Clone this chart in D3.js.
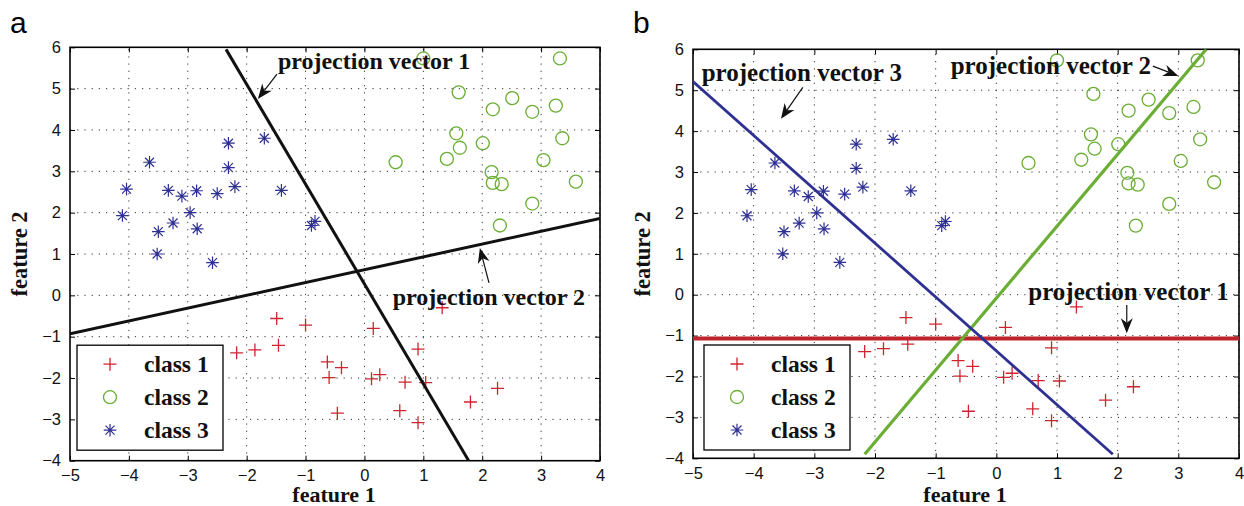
<!DOCTYPE html>
<html>
<head>
<meta charset="utf-8">
<script src="https://cdn.jsdelivr.net/npm/d3@7"></script>
<style>
  body { margin: 0; background: #fff; }
  svg { display: block; }
</style>
</head>
<body>
<svg id="chart" width="1244" height="506"></svg>
<script>
// ----------------------
// DATA
// ----------------------
const xTicks = [-5, -4, -3, -2, -1, 0, 1, 2, 3, 4];
const yTicks = [-4, -3, -2, -1, 0, 1, 2, 3, 4, 5, 6];

const class1 = [
  [-1.49, -0.56], [-1.00, -0.72], [-2.17, -1.39], [-1.86, -1.32], [-1.46, -1.21],
  [0.15, -0.80], [1.32, -0.30], [0.91, -1.30], [-0.63, -1.61], [-0.39, -1.75],
  [-0.60, -1.99], [0.12, -2.02], [0.26, -1.92], [0.69, -2.10], [1.04, -2.11],
  [2.26, -2.25], [1.80, -2.58], [0.60, -2.79], [-0.46, -2.85], [0.91, -3.08]
];
const class2 = [
  [1.00, 5.73], [3.32, 5.73], [1.60, 4.91], [2.51, 4.77], [2.18, 4.50],
  [2.85, 4.44], [3.25, 4.59], [1.56, 3.92], [1.62, 3.57], [2.01, 3.68],
  [1.40, 3.30], [0.53, 3.22], [3.36, 3.80], [3.04, 3.27], [2.16, 2.98],
  [2.18, 2.72], [2.33, 2.69], [3.59, 2.75], [2.85, 2.22], [2.30, 1.69]
];
const class3 = [
  [-4.04, 2.57], [-4.11, 1.93], [-3.65, 3.22], [-3.33, 2.54], [-3.10, 2.40],
  [-2.85, 2.53], [-2.96, 2.00], [-3.25, 1.75], [-3.50, 1.54], [-2.84, 1.61],
  [-2.50, 2.46], [-2.31, 3.68], [-2.31, 3.09], [-2.20, 2.63], [-1.70, 3.80],
  [-1.41, 2.54], [-0.90, 1.69], [-0.84, 1.79], [-3.52, 1.00], [-2.58, 0.79]
];
const classNames = ["class 1", "class 2", "class 3"];

// projection vectors (end points in feature space)
const linesA = [
  [[-2.35, 5.95], [1.77, -4.0]],
  [[-5, -0.93], [4, 1.86]]
];
const linesB = [
  [[-5, -1.07], [4, -1.07]],
  [[-2.17, -3.9], [3.46, 6.0]],
  [[-5, 5.21], [1.92, -3.9]]
];

// ----------------------
// STYLE / LAYOUT
// ----------------------
const RED = "#cf2430", GREEN = "#6aae35", NAVY = "#2f3192";
const serif = "'Liberation Serif', 'Times New Roman', serif";
const sans = "'Liberation Sans', Arial, sans-serif";

const svg = d3.select("#chart");

function marker(g, type, x, y){
  if(type === 0){
    g.append("path").attr("d", `M${x-6.5},${y}H${x+6.5}M${x},${y-6.5}V${y+6.5}`)
      .attr("stroke", RED).attr("stroke-width", 1.3).attr("fill", "none");
  } else if(type === 1){
    g.append("circle").attr("cx", x).attr("cy", y).attr("r", 6.5)
      .attr("stroke", GREEN).attr("stroke-width", 1.3).attr("fill", "none");
  } else {
    const r = 6.3, d = 4.5;
    g.append("path")
      .attr("d", `M${x-r},${y}H${x+r}M${x},${y-r}V${y+r}M${x-d},${y-d}L${x+d},${y+d}M${x-d},${y+d}L${x+d},${y-d}`)
      .attr("stroke", NAVY).attr("stroke-width", 1.2).attr("fill", "none");
  }
}

function drawPanel(cfg){
  const x = d3.scaleLinear().domain([-5, 4]).range([cfg.left, cfg.right]);
  const y = d3.scaleLinear().domain([-4, 6]).range([cfg.bottom, cfg.top]);
  const g = svg.append("g");
  const clipId = "clip" + cfg.id;
  svg.append("clipPath").attr("id", clipId).append("rect")
    .attr("x", cfg.left).attr("y", cfg.top)
    .attr("width", cfg.right - cfg.left).attr("height", cfg.bottom - cfg.top);

  // grid
  const grid = g.append("g").attr("stroke", "#333").attr("stroke-width", 1)
    .attr("stroke-dasharray", "1.2,6");
  xTicks.slice(1).forEach(t => grid.append("line")
    .attr("x1", x(t)).attr("x2", x(t)).attr("y1", cfg.bottom).attr("y2", cfg.top));
  yTicks.slice(1, -1).forEach(t => grid.append("line")
    .attr("x1", cfg.left).attr("x2", cfg.right).attr("y1", y(t)).attr("y2", y(t)));

  // axes with inward ticks on all four sides
  const tk = 5;
  g.append("g").attr("transform", `translate(0,${cfg.bottom})`)
    .call(d3.axisBottom(x).tickValues(xTicks).tickSizeInner(-tk).tickSizeOuter(0).tickPadding(9))
    .call(a => a.select(".domain").remove());
  g.append("g").attr("transform", `translate(0,${cfg.top})`)
    .call(d3.axisTop(x).tickValues(xTicks).tickSizeInner(-tk).tickSizeOuter(0).tickFormat(""))
    .call(a => a.select(".domain").remove());
  g.append("g").attr("transform", `translate(${cfg.left},0)`)
    .call(d3.axisLeft(y).tickValues(yTicks).tickSizeInner(-tk).tickSizeOuter(0).tickPadding(9))
    .call(a => a.select(".domain").remove());
  g.append("g").attr("transform", `translate(${cfg.right},0)`)
    .call(d3.axisRight(y).tickValues(yTicks).tickSizeInner(-tk).tickSizeOuter(0).tickFormat(""))
    .call(a => a.select(".domain").remove());
  g.selectAll(".tick line").attr("stroke", "#000").attr("stroke-width", 1);
  g.selectAll(".tick text").attr("font-family", sans).attr("font-size", 16.5).attr("fill", "#111");

  // frame
  g.append("rect").attr("x", cfg.left).attr("y", cfg.top)
    .attr("width", cfg.right - cfg.left).attr("height", cfg.bottom - cfg.top)
    .attr("fill", "none").attr("stroke", "#000").attr("stroke-width", 1.6);

  // data
  const pts = g.append("g");
  [class1, class2, class3].forEach((arr, k) => arr.forEach(p => marker(pts, k, x(p[0]), y(p[1]))));

  // projection lines
  const lg = g.append("g").attr("clip-path", `url(#${clipId})`);
  cfg.lines.forEach((l, i) => lg.append("line")
    .attr("x1", x(l[0][0])).attr("y1", y(l[0][1]))
    .attr("x2", x(l[1][0])).attr("y2", y(l[1][1]))
    .attr("stroke", cfg.lineColors[i]).attr("stroke-width", cfg.lineWidths[i]));

  // annotations
  cfg.notes.forEach(n => {
    g.append("text").attr("x", x(n.tx)).attr("y", y(n.ty))
      .attr("font-family", serif).attr("font-weight", "bold").attr("font-size", cfg.noteSize)
      .attr("fill", "#111").text(n.label);
    arrow(g, x(n.a[0]), y(n.a[1]), x(n.b[0]), y(n.b[1]));
  });

  // legend
  const lgd = g.append("g");
  lgd.append("rect").attr("x", cfg.left + cfg.lgx).attr("y", cfg.bottom - cfg.lgb - 105)
    .attr("width", 146).attr("height", 105)
    .attr("fill", "#fff").attr("stroke", "#000").attr("stroke-width", 1.3);
  classNames.forEach((c, k) => {
    const ry = cfg.bottom - cfg.lgb - 86 + k * 33;
    marker(lgd, k, cfg.left + cfg.lgx + 33, ry);
    lgd.append("text").attr("x", cfg.left + cfg.lgx + 67).attr("y", ry + 8)
      .attr("font-family", serif).attr("font-weight", "bold").attr("font-size", 23.5)
      .attr("fill", "#111").text(c);
  });

  // axis labels
  g.append("text").attr("x", (cfg.left + cfg.right) / 2 - 1).attr("y", 502)
    .attr("text-anchor", "middle").attr("font-family", serif).attr("font-weight", "bold")
    .attr("font-size", 22).attr("fill", "#111").text("feature 1");
  g.append("text").attr("transform", `translate(${cfg.left - 43},${(cfg.top + cfg.bottom) / 2}) rotate(-90)`)
    .attr("text-anchor", "middle").attr("font-family", serif).attr("font-weight", "bold")
    .attr("font-size", 22.5).attr("fill", "#111").text("feature 2");

  // panel letter
  g.append("text").attr("x", cfg.left - 60).attr("y", 33)
    .attr("font-family", sans).attr("font-size", 30).text(cfg.letter);
}

function arrow(g, x1, y1, x2, y2){
  const ang = Math.atan2(y2 - y1, x2 - x1);
  const L = 15, W = 6;
  const bx = x2 - L * Math.cos(ang), by = y2 - L * Math.sin(ang);
  const nx = -Math.sin(ang), ny = Math.cos(ang);
  const mx = x2 - 0.7 * L * Math.cos(ang), my = y2 - 0.7 * L * Math.sin(ang);
  g.append("line").attr("x1", x1).attr("y1", y1).attr("x2", mx).attr("y2", my)
    .attr("stroke", "#111").attr("stroke-width", 1.2);
  g.append("path")
    .attr("d", `M${x2},${y2}L${bx + W * nx},${by + W * ny}L${mx},${my}L${bx - W * nx},${by - W * ny}Z`)
    .attr("fill", "#111");
}

drawPanel({
  id: "a", letter: "a", left: 70, right: 600, top: 47.3, bottom: 460.7,
  lines: linesA, lineColors: ["#111", "#111"], lineWidths: [3, 3],
  lgx: 7, lgb: 10.5, noteSize: 24,
  notes: [
    { label: "projection vector 1", tx: -1.47, ty: 5.475, a: [-1.485, 5.35], b: [-1.81, 4.75] },
    { label: "projection vector 2", tx: 0.48, ty: -0.233, a: [2.115, 0.30], b: [1.96, 1.145] }
  ]
});

drawPanel({
  id: "b", letter: "b", left: 693, right: 1239, top: 49.3, bottom: 458.3,
  lines: linesB, lineColors: ["#c0232b", GREEN, NAVY], lineWidths: [4, 3.2, 2.8],
  lgx: 11, lgb: 8.3, noteSize: 25,
  notes: [
    { label: "projection vector 3", tx: -4.857, ty: 5.225, a: [-3.19, 5.07], b: [-3.55, 4.30] },
    { label: "projection vector 2", tx: -0.752, ty: 5.40, a: [2.58, 5.59], b: [3.0, 5.35] },
    { label: "projection vector 1", tx: 0.527, ty: -0.12, a: [2.15, -0.25], b: [2.15, -0.94] }
  ]
});
</script>
</body>
</html>
